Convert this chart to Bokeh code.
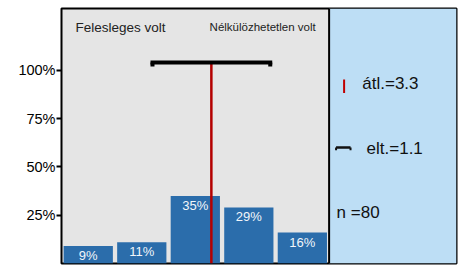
from bokeh.plotting import figure
from bokeh.models import Range1d, FixedTicker, PrintfTickFormatter, ColumnDataSource, Span
from bokeh.core.properties import value
from bokeh.embed import file_html
from bokeh.resources import INLINE

categories = [1, 2, 3, 4, 5]
percents = [9, 11, 35, 29, 16]
bar_labels = ["9%", "11%", "35%", "29%", "16%"]
y_ticks = [25, 50, 75, 100]
mean_value = 3.3
sd_value = 1.1
n_value = 80
left_label = "Felesleges volt"
right_label = "Nélkülözhetetlen volt"

FONT = "Liberation Sans"
BAR_COLOR = "#2B6DAB"
RED = "#B40000"

p = figure(width=458, height=265, output_backend="svg", toolbar_location=None,
           x_range=Range1d(0.5, 7.88), y_range=Range1d(0, 132),
           x_axis_location=None, min_border_left=61, min_border_top=8,
           min_border_right=2, min_border_bottom=2)
p.background_fill_color = "#E5E5E5"
p.border_fill_color = "white"
p.outline_line_color = "black"
p.outline_line_width = 2
p.xgrid.visible = False
p.ygrid.visible = False

# right info panel
p.quad(left=[5.5], right=[7.88], bottom=[0], top=[132], fill_color="#BDDEF5", line_color=None)
p.add_layout(Span(location=5.5, dimension="height", line_color="black", line_width=2))

src = ColumnDataSource(dict(x=categories, top=percents, label=bar_labels))
p.vbar(x="x", top="top", width=0.92, bottom=0, source=src, fill_color=BAR_COLOR, line_color=None)
p.text(x="x", y="top", text="label", source=src, text_align="center", text_baseline="top",
       y_offset=2, text_color="#F2F6FA", text_font=value(FONT), text_font_size="13px")

# mean line
p.segment(x0=[mean_value], y0=[0], x1=[mean_value], y1=[104], line_color=RED, line_width=2.5)
# sd bracket
lo, hi = mean_value - sd_value, mean_value + sd_value
p.segment(x0=[lo], y0=[104], x1=[hi], y1=[104], line_color="black", line_width=4, line_cap="square")
p.segment(x0=[lo, hi], y0=[104, 104], x1=[lo, hi], y1=[102, 102], line_color="black", line_width=4)

# top labels
p.text(x=[0.76], y=[122.2], text=[left_label], text_align="left", text_baseline="middle",
       text_color="#222222", text_font=value(FONT), text_font_size="13.5px")
p.text(x=[5.25], y=[122.2], text=[right_label], text_align="right", text_baseline="middle",
       text_color="#222222", text_font=value(FONT), text_font_size="11.5px")

# info panel legend
p.segment(x0=[5.78], y0=[88.2], x1=[5.78], y1=[95.3], line_color="#C00000", line_width=2)
p.text(x=[6.12], y=[93.0], text=["átl.=%.1f" % mean_value], text_align="left", text_baseline="middle",
       text_color="#111111", text_font=value(FONT), text_font_size="17px")
p.segment(x0=[5.63], y0=[60.0], x1=[5.90], y1=[60.0], line_color="#111111", line_width=2.5)
p.segment(x0=[5.63, 5.90], y0=[60.0, 60.0], x1=[5.63, 5.90], y1=[58.6, 58.6], line_color="#111111", line_width=2)
p.text(x=[6.20], y=[59.6], text=["elt.=%.1f" % sd_value], text_align="left", text_baseline="middle",
       text_color="#111111", text_font=value(FONT), text_font_size="17px")
p.text(x=[5.64], y=[26.5], text=["n =%d" % n_value], text_align="left", text_baseline="middle",
       text_color="#111111", text_font=value(FONT), text_font_size="17px")

ax = p.yaxis[0]
ax.ticker = FixedTicker(ticks=y_ticks)
ax.formatter = PrintfTickFormatter(format="%d%%")
ax.axis_line_color = None
ax.major_tick_out = 5
ax.major_tick_in = 0
ax.major_tick_line_width = 2
ax.major_tick_line_color = "black"
ax.minor_tick_line_color = None
ax.major_label_standoff = 1
ax.major_label_text_font = FONT
ax.major_label_text_font_size = "14.5px"
ax.major_label_text_color = "black"

open("out.html", "w").write(file_html(p, INLINE))
